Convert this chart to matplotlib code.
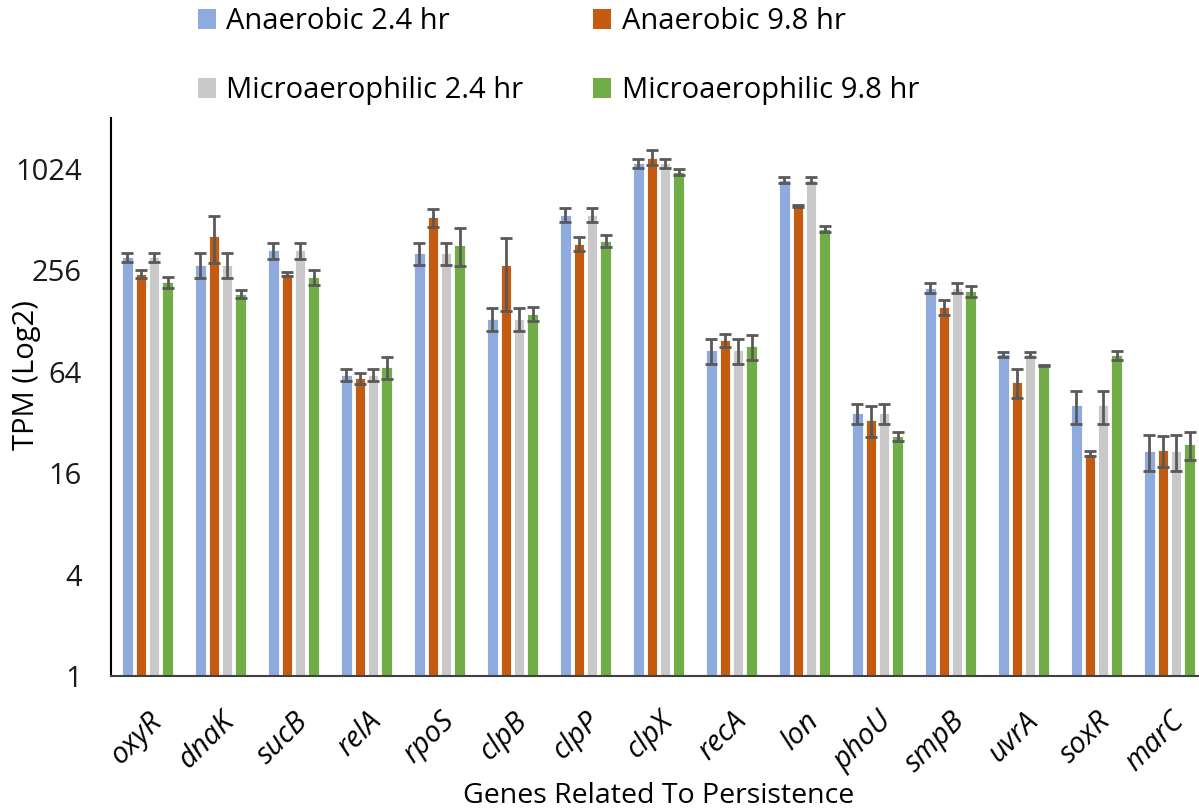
import numpy as np
import matplotlib.pyplot as plt
from matplotlib.patches import Patch

plt.rcParams['font.family'] = ['Open Sans', 'DejaVu Sans']

genes = ['oxyR', 'dnaK', 'sucB', 'relA', 'rpoS', 'clpB', 'clpP', 'clpX',
         'recA', 'lon', 'phoU', 'smpB', 'uvrA', 'soxR', 'marC']

series = ['Anaerobic 2.4 hr', 'Anaerobic 9.8 hr',
          'Microaerophilic 2.4 hr', 'Microaerophilic 9.8 hr']

anaer_24 = [305, 276, 335, 61, 324, 132, 545, 1105, 85.5, 880, 36.3, 201, 81, 40.3, 21.7]
anaer_98 = [243, 410, 243, 58.6, 527, 273, 367, 1193, 98, 618, 33.1, 155, 55.5, 20.8, 22.0]
micro_24 = [305, 276, 335, 61, 324, 132, 545, 1105, 85.5, 880, 36.3, 201, 81, 40.3, 21.7]
micro_98 = [217, 185, 232, 68, 362, 141, 383, 975, 90.5, 449, 26.4, 192, 69.6, 79.8, 23.7]

anaer_24_err = [17, 46, 37, 4.9, 48, 20, 51, 70, 14, 40, 5, 13, 3, 8.9, 5.3]
anaer_98_err = [14, 128, 6.6, 4.3, 62, 127, 35, 122, 8.5, 9, 7, 16, 11, 0.7, 4.5]
micro_24_err = [17, 46, 37, 4.9, 48, 20, 51, 70, 14, 40, 5, 13, 3, 8.9, 5.3]
micro_98_err = [16, 9.6, 24, 10.5, 92, 13.5, 33, 40, 15, 18, 1.7, 15, 0.5, 4.5, 4.5]

colors = ['#8FAADC', '#C55A11', '#C9C9C9', '#70AD47']

fig = plt.figure(figsize=(11.99, 8.08), dpi=100)
ax = fig.add_axes([111 / 1199, 132 / 808, 1095 / 1199, 558 / 808])

x = np.arange(len(genes))
pitch = 0.183
width = 0.145
values = [anaer_24, anaer_98, micro_24, micro_98]
errors = [anaer_24_err, anaer_98_err, micro_24_err, micro_98_err]

for i in range(4):
    pos = x + (i - 1.5) * pitch
    ax.bar(pos, values[i], width, color=colors[i], edgecolor='white',
           linewidth=0.6, label=series[i], zorder=2)
    ax.errorbar(pos, values[i], yerr=errors[i], fmt='none', ecolor='#595959',
                elinewidth=2, capsize=4, capthick=2, zorder=3)

ax.set_yscale('log', base=2)
ax.set_ylim(1, 2048)
ax.set_xlim(-0.5, len(genes) - 0.5)
ax.set_yticks([1, 4, 16, 64, 256, 1024])
ax.set_yticklabels(['1', '4', '16', '64', '256', '1024'])
ax.minorticks_off()
ax.tick_params(axis='y', length=0, pad=21, labelsize=21, labelcolor='#1a1a1a')
ax.set_xticks(x)
ax.set_xticklabels(genes, rotation=45, ha='right', rotation_mode='anchor',
                   fontstyle='italic', fontsize=21)
ax.tick_params(axis='x', length=0, pad=22)

for side in ['top', 'right']:
    ax.spines[side].set_visible(False)
ax.spines['left'].set_color('black')
ax.spines['left'].set_linewidth(1.5)
ax.spines['bottom'].set_color('#404040')
ax.spines['bottom'].set_linewidth(1.5)

ax.set_ylabel('TPM (Log2)', fontsize=21)
ax.yaxis.set_label_coords(-0.064, 0.54)
ax.set_xlabel('Genes Related To Persistence', fontsize=20.5, va='top')
ax.xaxis.set_label_coords(0.5, -0.19)

handles = [Patch(facecolor=c) for c in colors]
order = [0, 2, 1, 3]
fig.legend([handles[k] for k in order], [series[k] for k in order],
           ncol=2, loc='upper left', bbox_to_anchor=(195 / 1199, 1 - 4 / 808),
           frameon=False, fontsize=21, handlelength=0.62, handleheight=0.7,
           handletextpad=0.35, labelspacing=1.38, columnspacing=2.4,
           borderpad=0.1, borderaxespad=0)

plt.savefig('out.png', dpi=100)
